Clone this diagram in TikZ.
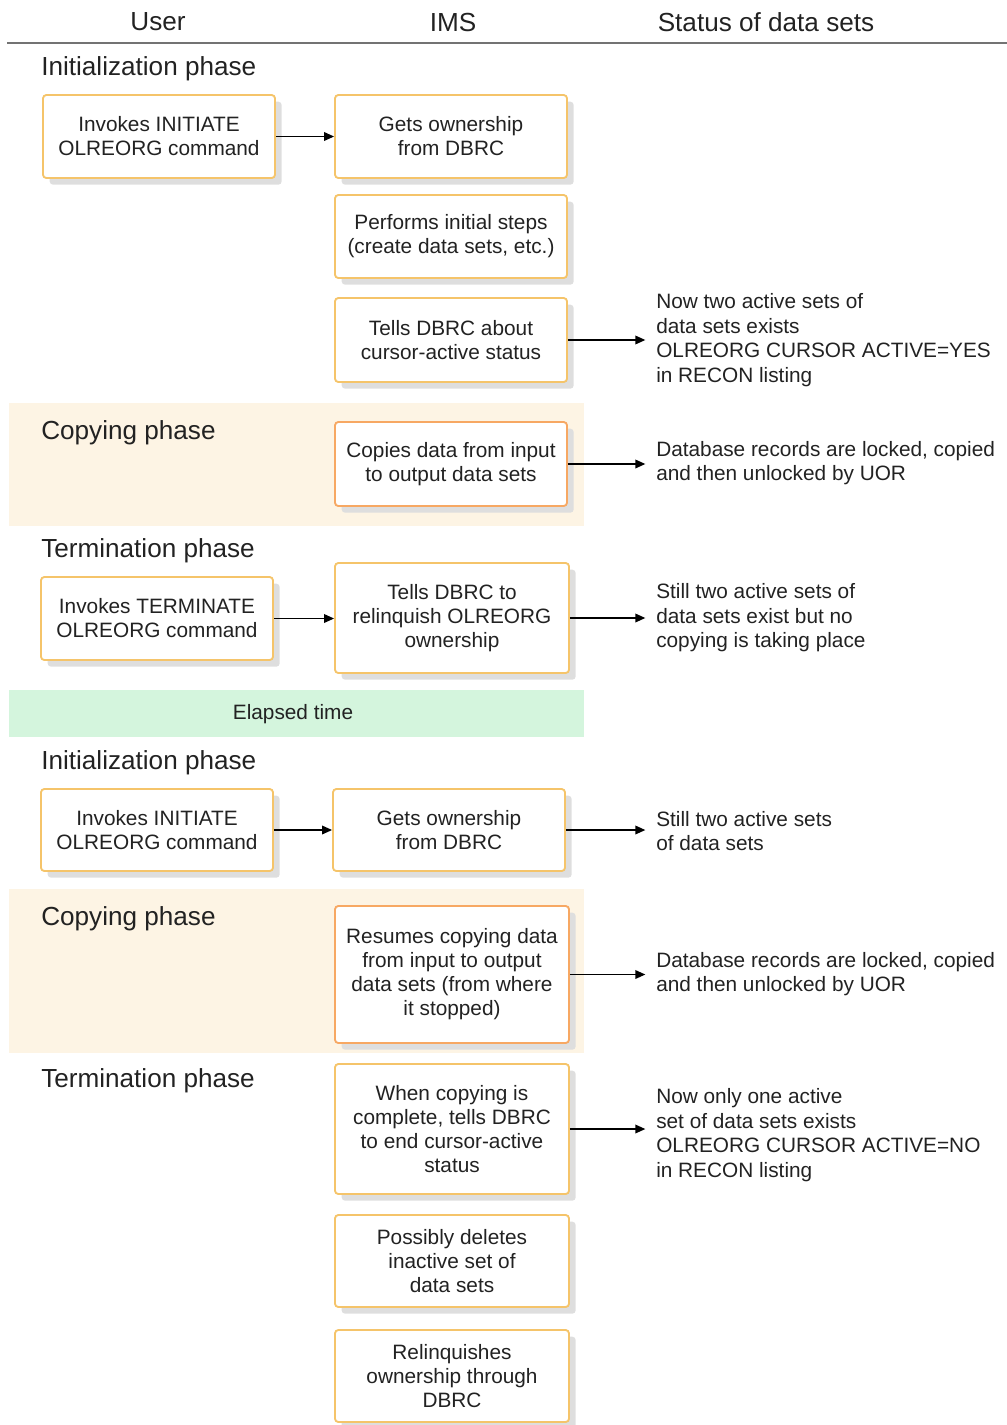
\documentclass[tikz,border=0pt]{standalone}
\usepackage{fontspec}
\setmainfont{Liberation Sans}
\usetikzlibrary{arrows.meta,shadows}
\definecolor{boxline}{HTML}{F5C46A}
\definecolor{boxlinetwo}{HTML}{F7A863}
\definecolor{beige}{HTML}{FDF4E4}
\definecolor{mint}{HTML}{D4F5DD}
\definecolor{txt}{HTML}{222222}
\begin{document}
\begin{tikzpicture}[x=0.75pt,y=-0.75pt,
  box/.style={draw=boxline, line width=1.4pt, rounded corners=2.5pt, fill=white,
    drop shadow={shadow xshift=5pt, shadow yshift=-5pt, fill=black!13, opacity=1},
    text=txt, font=\fontsize{15.6}{18}\selectfont, align=center, inner sep=2pt},
  boxc/.style={box, draw=boxlinetwo},
  stat/.style={anchor=west, align=left, inner sep=0pt, text=txt, font=\fontsize{15.6}{18.4}\selectfont},
  phase/.style={anchor=west, inner sep=0pt, text=txt, font=\fontsize{19.6}{22}\selectfont},
  head/.style={inner sep=0pt, text=txt, font=\fontsize{19.6}{22}\selectfont},
  arr/.style={-{Triangle[length=7.5pt,width=6.5pt]}, line width=1pt, black, shorten >=0pt},
  sarr/.style={arr, shorten >=8pt}
]
\useasboundingbox (0,0) rectangle (1007,1425);
% header
\node[head] (hu) at (158,22) {User};
\node[head] (hi) at (453,22) {IMS};
\node[head] (hs) at (766,22) {Status of data sets};
\draw[black!55, line width=2pt] (7,43) -- (1007,43);

% bands
\fill[beige] (9,403) rectangle (584,526);
\fill[mint] (9,690) rectangle (584,737);
\fill[beige] (9,889) rectangle (584,1053);

% Initialization phase 1
\node[phase] (p1) at (41,69) {Initialization phase};
\node[box, minimum width=174pt, minimum height=62.25pt] (u1) at (159,136.5) {Invokes INITIATE\\OLREORG command};
\node[box, minimum width=174pt, minimum height=62.25pt] (i1) at (451,136.5) {Gets ownership\\from DBRC};
\node[box, minimum width=174pt, minimum height=62.25pt] (i2) at (451,236.5) {Performs initial steps\\(create data sets, etc.)};
\node[box, minimum width=174pt, minimum height=63pt] (i3) at (451,340) {Tells DBRC about\\cursor-active status};
\node[stat] (s1) at (656,340) {Now two active sets of\\data sets exists\\OLREORG CURSOR ACTIVE=YES\\in RECON listing};
\draw[arr] (u1.east) -- (i1.west);
\draw[sarr] (i3.east) -- (i3.east -| s1.west);

% Copying phase 1
\node[phase] (p2) at (41,433) {Copying phase};
\node[boxc, minimum width=174pt, minimum height=63pt] (i4) at (451,464) {Copies data from input\\to output data sets};
\node[stat] (s2) at (656,463) {Database records are locked, copied\\and then unlocked by UOR};
\draw[sarr] (i4.east) -- (i4.east -| s2.west);

% Termination phase 1
\node[phase] (p3) at (41,551) {Termination phase};
\node[box, minimum width=174pt, minimum height=62.25pt] (u2) at (157,618.5) {Invokes TERMINATE\\OLREORG command};
\node[box, minimum width=175.5pt, minimum height=82.5pt] (i5) at (452,618) {Tells DBRC to\\relinquish OLREORG\\ownership};
\node[stat] (s3) at (656,618) {Still two active sets of\\data sets exist but no\\copying is taking place};
\draw[arr] (u2.east) -- (u2.east -| i5.west);
\draw[sarr] (i5.east) -- (i5.east -| s3.west);

% Elapsed time
\node[head, font=\fontsize{15.6}{18}\selectfont] (el) at (293,714) {Elapsed time};

% Initialization phase 2
\node[phase] (p4) at (41,763) {Initialization phase};
\node[box, minimum width=174pt, minimum height=61.5pt] (u3) at (157,830) {Invokes INITIATE\\OLREORG command};
\node[box, minimum width=174pt, minimum height=61.5pt] (i6) at (449,830) {Gets ownership\\from DBRC};
\node[stat] (s4) at (656,831) {Still two active sets\\of data sets};
\draw[arr] (u3.east) -- (i6.west);
\draw[sarr] (i6.east) -- (i6.east -| s4.west);

% Copying phase 2
\node[phase] (p5) at (41,919) {Copying phase};
\node[boxc, minimum width=175.5pt, minimum height=102.75pt] (i7) at (452,974.5) {Resumes copying data\\from input to output\\data sets (from where\\it stopped)};
\node[stat] (s5) at (656,974) {Database records are locked, copied\\and then unlocked by UOR};
\draw[sarr] (i7.east) -- (i7.east -| s5.west);

% Termination phase 2
\node[phase] (p6) at (41,1081) {Termination phase};
\node[box, minimum width=175.5pt, minimum height=97.5pt] (i8) at (452,1129) {When copying is\\complete, tells DBRC\\to end cursor-active\\status};
\node[stat] (s6) at (656,1135) {Now only one active\\set of data sets exists\\OLREORG CURSOR ACTIVE=NO\\in RECON listing};
\draw[sarr] (i8.east) -- (i8.east -| s6.west);
\node[box, minimum width=175.5pt, minimum height=69pt] (i9) at (452,1261) {Possibly deletes\\inactive set of\\data sets};
\node[box, minimum width=175.5pt, minimum height=69pt] (i10) at (452,1376) {Relinquishes\\ownership through\\DBRC};
\end{tikzpicture}
\end{document}
